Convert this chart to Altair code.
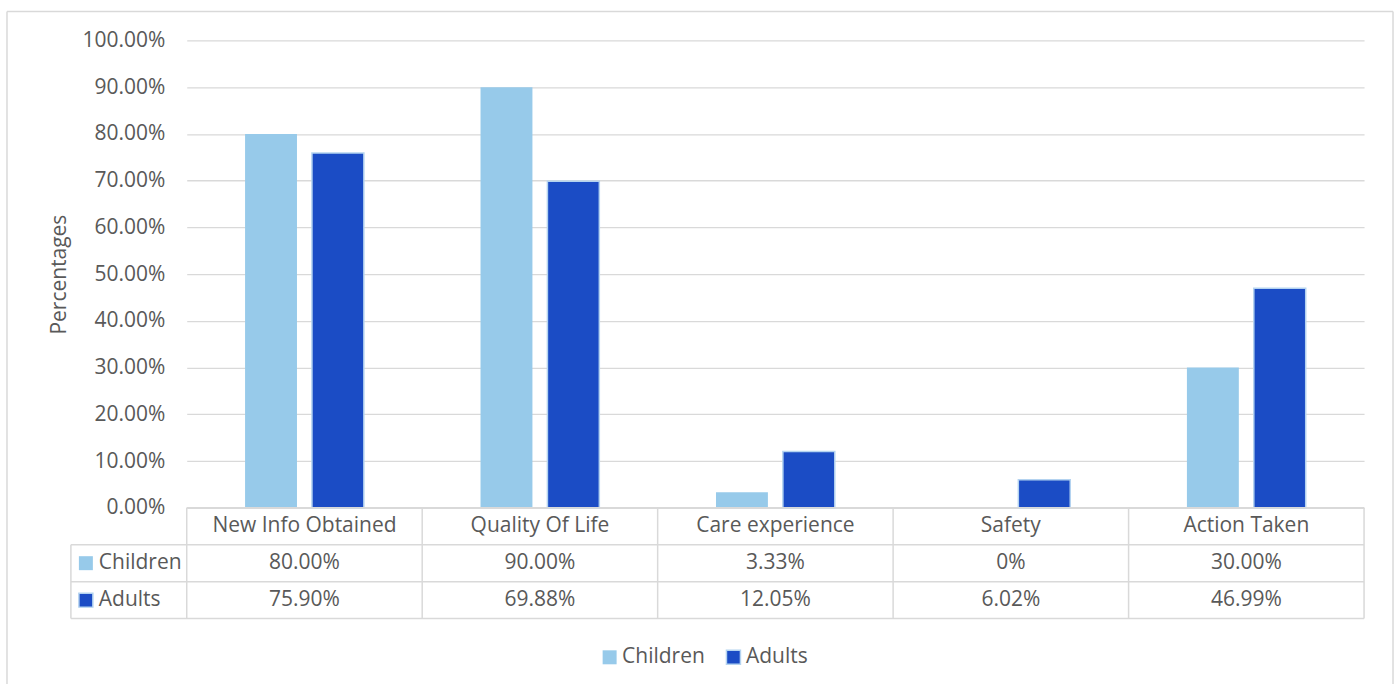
import altair as alt
import pandas as pd

categories = ["New Info Obtained", "Quality Of Life", "Care experience", "Safety", "Action Taken"]
series = ["Children", "Adults"]
children = [80.00, 90.00, 3.33, 0.0, 30.00]
adults = [75.90, 69.88, 12.05, 6.02, 46.99]
y_ticks = [0, 10, 20, 30, 40, 50, 60, 70, 80, 90, 100]
fill_colors = ["#97CAEA", "#1B4CC5"]
stroke_colors = ["rgba(0,0,0,0)", "#B4D3F0"]

FONT = "Open Sans"
FS = 21
TXT = "#595959"
GRID = "#D9D9D9"
W, H = 1179, 468
ROW_H = 37
rows_dom = ["hdr", "Children", "Adults"]


def fmt(v):
    return "0%" if v == 0 else f"{v:.2f}%"


recs = []
for c, a, b in zip(categories, children, adults):
    recs.append({"category": c, "series": "Children", "value": a})
    recs.append({"category": c, "series": "Adults", "value": b})
bars_df = pd.DataFrame(recs)

x_scale = alt.Scale(domain=categories, paddingInner=0, paddingOuter=0)
color_scale = alt.Scale(domain=series, range=fill_colors)
stroke_scale = alt.Scale(domain=series, range=stroke_colors)
legend = alt.Legend(
    orient="none", legendX=413, legendY=607, direction="horizontal", title=None,
    symbolType="square", symbolSize=196, symbolStrokeWidth=1.5,
    labelFont=FONT, labelFontSize=FS, labelColor=TXT, columnPadding=18, labelOffset=2,
)

bars = alt.Chart(bars_df).mark_bar(strokeWidth=1.5).encode(
    x=alt.X("category:N", scale=x_scale, axis=None, sort=categories),
    xOffset=alt.XOffset("series:N", sort=series,
                        scale=alt.Scale(domain=series, paddingInner=0.224, paddingOuter=0.872)),
    y=alt.Y("value:Q", scale=alt.Scale(domain=[0, 100], nice=False),
            axis=alt.Axis(values=y_ticks, labelExpr="format(datum.value, '.2f') + '%'",
                          title="Percentages", grid=True, gridColor=GRID, gridWidth=1.3,
                          domain=False, ticks=False, tickSize=0, labelPadding=22,
                          labelFont=FONT, labelFontSize=FS, labelColor=TXT,
                          titleFont=FONT, titleFontSize=FS, titleColor=TXT,
                          titleFontWeight="normal", titlePadding=12)),
    color=alt.Color("series:N", scale=color_scale, legend=legend),
    stroke=alt.Stroke("series:N", scale=stroke_scale, legend=legend),
)

one = pd.DataFrame({"k": [0]})
border_left = alt.Chart(one).mark_rule(color=GRID, strokeWidth=1.5).encode(
    x=alt.value(-180), y=alt.value(-29), y2=alt.value(650))
border_right = alt.Chart(one).mark_rule(color=GRID, strokeWidth=1.5).encode(
    x=alt.value(1208), y=alt.value(-29), y2=alt.value(650))
border_top = alt.Chart(one).mark_rule(color=GRID, strokeWidth=1.5).encode(
    x=alt.value(-180), x2=alt.value(1208), y=alt.value(-29))

top = alt.layer(border_left, border_right, border_top, bars).properties(width=W, height=H)

# ---- data table ----
trecs = []
for c, a, b in zip(categories, children, adults):
    trecs.append({"category": c, "row": "hdr", "label": c})
    trecs.append({"category": c, "row": "Children", "label": fmt(a)})
    trecs.append({"category": c, "row": "Adults", "label": fmt(b)})
tbl_df = pd.DataFrame(trecs)

y_rows = alt.Scale(domain=rows_dom, paddingInner=0, paddingOuter=0)

cells = alt.Chart(tbl_df).mark_text(font=FONT, fontSize=FS, color=TXT).encode(
    x=alt.X("category:N", scale=x_scale, axis=None, sort=categories),
    y=alt.Y("row:N", scale=y_rows, axis=None),
    text="label:N",
)

cat_df = pd.DataFrame({"category": categories})
vlines = alt.Chart(cat_df).mark_rule(color=GRID, strokeWidth=1.5).encode(
    x=alt.X("category:N", scale=x_scale, axis=None, bandPosition=0),
    y=alt.value(0), y2=alt.value(ROW_H * 3))
last_df = pd.DataFrame({"category": [categories[-1]]})
vline_end = alt.Chart(last_df).mark_rule(color=GRID, strokeWidth=1.5).encode(
    x=alt.X("category:N", scale=x_scale, axis=None, bandPosition=1),
    y=alt.value(0), y2=alt.value(ROW_H * 3))

ser_df = pd.DataFrame({"row": series, "series": series})
hlines = alt.Chart(ser_df).mark_rule(color=GRID, strokeWidth=1.5).encode(
    y=alt.Y("row:N", scale=y_rows, axis=None, bandPosition=0),
    x=alt.value(-116), x2=alt.value(W))
hline_bottom = alt.Chart(pd.DataFrame({"row": ["Adults"]})).mark_rule(color=GRID, strokeWidth=1.5).encode(
    y=alt.Y("row:N", scale=y_rows, axis=None, bandPosition=1),
    x=alt.value(-116), x2=alt.value(W))
hline_top = alt.Chart(pd.DataFrame({"row": ["hdr"]})).mark_rule(color=GRID, strokeWidth=1.5).encode(
    y=alt.Y("row:N", scale=y_rows, axis=None, bandPosition=0),
    x=alt.value(0), x2=alt.value(W))
vline_left = alt.Chart(pd.DataFrame({"row": ["Children"]})).mark_rule(color=GRID, strokeWidth=1.5).encode(
    y=alt.Y("row:N", scale=y_rows, axis=None, bandPosition=0),
    y2=alt.value(ROW_H * 3), x=alt.value(-116))

row_labels = alt.Chart(ser_df).mark_text(font=FONT, fontSize=FS, color=TXT, align="left").encode(
    y=alt.Y("row:N", scale=y_rows, axis=None), x=alt.value(-88), text="series:N")
row_keys = alt.Chart(ser_df).mark_point(shape="square", size=196, filled=True, opacity=1, strokeWidth=1.5).encode(
    y=alt.Y("row:N", scale=y_rows, axis=None), x=alt.value(-101),
    color=alt.Color("series:N", scale=color_scale, legend=None),
    stroke=alt.Stroke("series:N", scale=stroke_scale, legend=None),
)

table = alt.layer(hline_top, hlines, hline_bottom, vlines, vline_end, vline_left,
                  cells, row_labels, row_keys).properties(width=W, height=ROW_H * 3)

chart = alt.vconcat(top, table, spacing=0, bounds="flush").resolve_scale(
    color="independent", stroke="independent"
).properties(
    padding={"left": 6, "top": 10, "right": 5, "bottom": 0},
    background="white",
).configure_view(stroke=None)

chart.save("out.html", embed_options={"renderer": "svg", "actions": False})
